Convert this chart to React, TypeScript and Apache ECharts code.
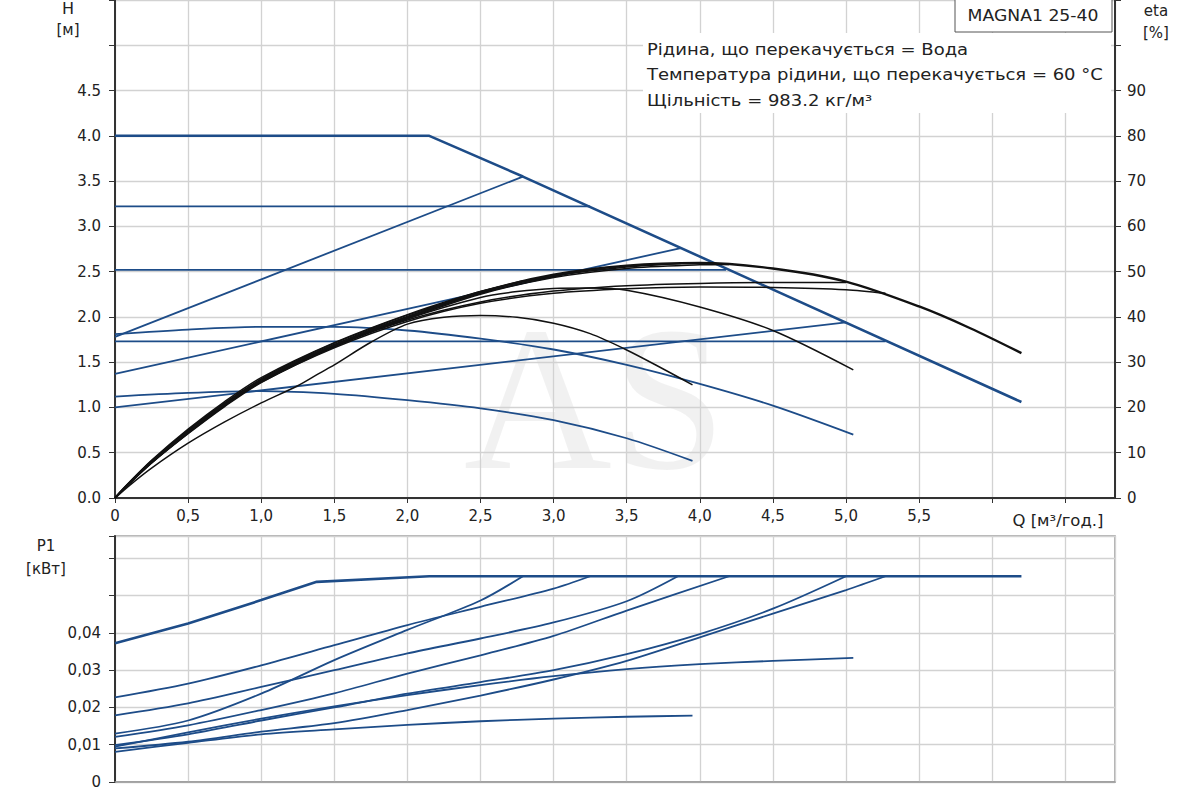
import React, { useEffect, useRef } from "react";
import * as echarts from "echarts";

// ---------- Data (Q in m³/h) ----------
// Head curves H [m]
const hMaxCurve = [[0, 4.0], [2.15, 4.0], [2.79, 3.55], [6.2, 1.06]];
const hCP322 = [[0, 3.22], [3.25, 3.22]];
const hCP252 = [[0, 2.52], [4.18, 2.52]];
const hCP173 = [[0, 1.73], [5.27, 1.73]];
const hPP178 = [[0, 1.78], [2.79, 3.55]];
const hPP137 = [[0, 1.37], [3.87, 2.76]];
const hPP100 = [[0, 1.0], [5.0, 1.94]];
const hAutoHigh = [[0, 1.81], [0.5, 1.86], [1.0, 1.89], [1.5, 1.89], [2.0, 1.85], [2.5, 1.76], [3.0, 1.64], [3.5, 1.47], [4.0, 1.26], [4.5, 1.02], [5.05, 0.7]];
const hAutoLow = [[0, 1.12], [0.5, 1.16], [1.0, 1.18], [1.5, 1.15], [2.0, 1.08], [2.5, 0.99], [3.0, 0.86], [3.5, 0.66], [3.95, 0.41]];

// Efficiency curves eta [%]
const etaMax = [[0, 0], [0.1, 3.4], [0.25, 8.0], [0.5, 14.6], [0.75, 20.7], [1.0, 26.0], [1.25, 30.2], [1.5, 33.8], [1.75, 37.1], [2.0, 40.0], [2.5, 45.5], [3.0, 49.3], [3.5, 51.3], [4.0, 51.9], [4.5, 50.7], [5.0, 47.8], [5.5, 42.3], [5.85, 37.5], [6.2, 32.0]];
const etaPP178 = [[0, 0], [0.1, 3.5], [0.25, 8.2], [0.5, 15.0], [0.75, 21.0], [1.0, 26.3], [1.25, 30.5], [1.5, 34.2], [1.75, 37.4], [2.0, 40.4], [2.5, 45.5], [2.79, 48.0]];
const etaCP322 = [[0, 0], [0.1, 3.3], [0.25, 7.8], [0.5, 14.4], [0.75, 20.4], [1.0, 25.7], [1.5, 33.5], [2.0, 39.8], [2.5, 45.2], [3.0, 48.9], [3.25, 50.4]];
const etaPP137 = [[0, 0], [0.1, 3.5], [0.25, 8.3], [0.5, 15.2], [0.75, 21.3], [1.0, 26.6], [1.5, 34.3], [2.0, 40.5], [2.5, 45.6], [3.0, 49.0], [3.5, 51.0], [3.87, 51.8]];
const etaCP252 = [[0, 0], [0.1, 3.2], [0.25, 7.7], [0.5, 14.2], [0.75, 20.2], [1.0, 25.5], [1.5, 33.4], [2.0, 39.6], [2.5, 45.0], [3.0, 48.7], [3.5, 50.7], [4.0, 51.5], [4.2, 51.6]];
const etaPP100 = [[0, 0], [0.1, 3.4], [0.25, 8.0], [0.5, 14.8], [0.75, 20.8], [1.0, 26.0], [1.5, 33.6], [2.0, 39.3], [2.5, 43.3], [3.0, 45.7], [3.5, 46.9], [4.0, 47.4], [4.5, 47.6], [5.0, 47.6]];
const etaCP173 = [[0, 0], [0.1, 3.3], [0.25, 7.9], [0.5, 14.5], [0.75, 20.5], [1.0, 25.6], [1.5, 33.2], [2.0, 39.0], [2.5, 43.0], [3.0, 45.2], [3.5, 46.2], [4.0, 46.6], [4.5, 46.5], [5.0, 46.0], [5.27, 45.2]];
const etaAutoHigh = [[0, 0], [0.1, 3.3], [0.25, 7.8], [0.5, 14.3], [0.75, 20.4], [1.0, 25.8], [1.5, 33.6], [2.0, 39.6], [2.5, 44.3], [2.75, 45.6], [3.0, 46.3], [3.25, 46.4], [3.5, 45.9], [4.0, 42.2], [4.5, 37.0], [5.05, 28.3]];
const etaAutoLow = [[0, 0], [0.1, 2.8], [0.25, 6.6], [0.5, 12.1], [0.75, 16.8], [1.0, 21.0], [1.25, 24.8], [1.4, 27.6], [1.5, 29.4], [1.75, 34.4], [2.0, 38.4], [2.25, 39.9], [2.5, 40.3], [2.75, 39.9], [3.0, 38.6], [3.25, 36.3], [3.5, 32.7], [3.75, 28.5], [3.95, 25.0]];

// Power curves P1 [kW]
const pMaxCurve = [[0, 0.0372], [0.5, 0.0425], [1.0, 0.0488], [1.38, 0.0537], [2.15, 0.0552], [6.2, 0.0552]];
const pCP322 = [[0, 0.0227], [0.5, 0.0264], [1.0, 0.0313], [1.5, 0.0367], [2.0, 0.0421], [2.5, 0.047], [3.0, 0.0519], [3.25, 0.0552]];
const pPP178 = [[0, 0.013], [0.5, 0.0165], [1.0, 0.0237], [1.5, 0.0327], [2.0, 0.0408], [2.5, 0.0487], [2.79, 0.0552]];
const pPP137 = [[0, 0.0179], [0.5, 0.0211], [1.0, 0.0255], [1.5, 0.03], [2.0, 0.0345], [2.5, 0.0385], [3.0, 0.0428], [3.5, 0.0485], [3.85, 0.0552]];
const pCP252 = [[0, 0.0121], [0.5, 0.0152], [1.0, 0.0193], [1.5, 0.0238], [2.0, 0.0291], [2.5, 0.034], [3.0, 0.0392], [3.5, 0.046], [4.2, 0.0552]];
const pPP100 = [[0, 0.0099], [0.5, 0.0128], [1.0, 0.0165], [1.5, 0.02], [2.0, 0.0237], [2.5, 0.0268], [3.0, 0.03], [3.5, 0.0343], [4.0, 0.0397], [4.5, 0.0465], [5.0, 0.0552]];
const pCP173 = [[0, 0.009], [0.5, 0.0108], [1.0, 0.0135], [1.5, 0.0158], [2.0, 0.0193], [2.5, 0.0232], [3.0, 0.0275], [3.5, 0.0325], [4.0, 0.0388], [4.5, 0.0452], [5.0, 0.0515], [5.27, 0.0552]];
const pAutoHigh = [[0, 0.0095], [0.5, 0.0133], [1.0, 0.017], [1.5, 0.0203], [2.0, 0.0233], [2.5, 0.026], [3.0, 0.0284], [3.5, 0.0303], [4.0, 0.0316], [4.5, 0.0325], [5.05, 0.0333]];
const pAutoLow = [[0, 0.0081], [0.5, 0.0105], [1.0, 0.0128], [1.5, 0.0141], [2.0, 0.0153], [2.5, 0.0163], [3.0, 0.017], [3.5, 0.0175], [3.95, 0.0178]];

// Texts
const titleBox = "MAGNA1 25-40";
const infoLines = [
  "Рідина, що перекачується = Вода",
  "Температура рідини, що перекачується = 60 °C",
  "Щільність = 983.2 кг/м³",
];
const qAxisName = "Q [м³/год.]";

const FONT = "'DejaVu Sans', 'Liberation Sans', Arial, sans-serif";
const BLUE = "#1d4c88";
const BLACK = "#111111";
const GRIDC = "#d2d2d2";

function App() {
  const ref = useRef<HTMLDivElement>(null);

  useEffect(() => {
    if (!ref.current) return;
    const chart = echarts.init(ref.current, undefined, { renderer: "svg" });

    const blue = (data: number[][], w = 1.8, smooth = false, xi = 0, yi = 0) => ({
      type: "line",
      data,
      xAxisIndex: xi,
      yAxisIndex: yi,
      showSymbol: false,
      smooth: smooth ? 0.3 : false,
      lineStyle: { color: BLUE, width: w },
      z: 3,
      silent: true,
    });
    const black = (data: number[][], w = 1.5) => ({
      type: "line",
      data,
      xAxisIndex: 0,
      yAxisIndex: 1,
      showSymbol: false,
      smooth: 0.3,
      lineStyle: { color: BLACK, width: w },
      z: 4,
      silent: true,
    });

    const axisFont = { fontFamily: FONT, fontSize: 15, color: "#222" };
    const txt = (x: number, y: number, text: string, size = 15, align = "center", sx = 1) => ({
      type: "text",
      x,
      y,
      scaleX: sx,
      z: 3,
      silent: true,
      style: { text, fontFamily: FONT, fontSize: size, fill: "#222", align, verticalAlign: "middle" },
    });

    const option: any = {
      animation: false,
      backgroundColor: "#fff",
      grid: [
        { left: 115, right: 85, top: 0, height: 498, show: true, borderColor: "#666", borderWidth: 1, backgroundColor: "transparent" },
        { left: 115, right: 85, top: 536, height: 246, show: true, borderColor: "#999", borderWidth: 1.5, backgroundColor: "transparent" },
      ],
      xAxis: [
        {
          gridIndex: 0,
          type: "value",
          min: 0,
          max: 6.84,
          interval: 0.5,
          axisLine: { show: true, onZero: false, lineStyle: { color: "#333", width: 2 } },
          axisTick: { show: true, length: 5, lineStyle: { color: "#333" } },
          axisLabel: {
            ...axisFont,
            margin: 10,
            showMaxLabel: false,
            formatter: (v: number) => (v >= 5.9 ? "" : v === 0 ? "0" : v.toFixed(1).replace(".", ",")),
          },
          splitLine: { show: true, lineStyle: { color: GRIDC, width: 1.3 } },
        },
        {
          gridIndex: 1,
          type: "value",
          min: 0,
          max: 6.84,
          interval: 0.5,
          axisLine: { show: true, onZero: false, lineStyle: { color: "#999", width: 1.5 } },
          axisTick: { show: false },
          axisLabel: { show: false },
          splitLine: { show: true, lineStyle: { color: GRIDC, width: 1.3 } },
        },
      ],
      yAxis: [
        {
          gridIndex: 0,
          type: "value",
          position: "left",
          min: 0,
          max: 5.5,
          interval: 0.5,
          axisLine: { show: true, onZero: false, lineStyle: { color: "#333", width: 2 } },
          axisTick: { show: true, length: 6, lineStyle: { color: "#333" } },
          axisLabel: {
            ...axisFont,
            margin: 14,
            formatter: (v: number) => (v > 4.6 ? "" : v.toFixed(1)),
          },
          splitLine: { show: true, lineStyle: { color: GRIDC, width: 1.3 } },
        },
        {
          gridIndex: 0,
          type: "value",
          position: "right",
          min: 0,
          max: 110,
          interval: 10,
          axisLine: { show: true, onZero: false, lineStyle: { color: "#333", width: 2 } },
          axisTick: { show: true, length: 6, lineStyle: { color: "#333" } },
          axisLabel: {
            ...axisFont,
            margin: 12,
            formatter: (v: number) => (v > 95 ? "" : String(Math.round(v))),
          },
          splitLine: { show: false },
        },
        {
          gridIndex: 1,
          type: "value",
          position: "left",
          min: 0,
          max: 0.066,
          interval: 0.01,
          axisLine: { show: true, onZero: false, lineStyle: { color: "#333", width: 2 } },
          axisTick: { show: true, length: 6, lineStyle: { color: "#333" } },
          axisLabel: {
            ...axisFont,
            margin: 14,
            formatter: (v: number) => (v > 0.045 ? "" : v === 0 ? "0" : v.toFixed(2).replace(".", ",")),
          },
          splitLine: { show: true, lineStyle: { color: GRIDC, width: 1.3 } },
        },
      ],
      graphic: [
        {
          type: "text",
          z: -10,
          silent: true,
          x: 595,
          y: 398,
          scaleX: 1.2,
          scaleY: 1.2,
          style: {
            text: "AS",
            fontFamily: "'Liberation Serif', 'DejaVu Serif', serif",
            fontSize: 171,
            lineHeight: 120,
            fill: "rgba(0,0,0,0.055)",
            align: "center",
            verticalAlign: "middle",
          },
        },
        {
          type: "rect",
          z: 1,
          silent: true,
          shape: { x: 643, y: 33, width: 468, height: 80 },
          style: { fill: "#fff" },
        },
        ...infoLines.map((t, i) => txt(647, 50 + i * 25.5, t, 15, "left", 1.2)),
        {
          type: "rect",
          z: 2,
          silent: true,
          shape: { x: 955, y: -1, width: 157, height: 33 },
          style: { fill: "#fff", stroke: "#555", lineWidth: 1 },
        },
        txt(1033, 16, titleBox, 15, "center", 1.15),
        txt(68, 8, "H", 16),
        txt(68, 30, "[м]", 15),
        txt(1156, 11, "eta", 15),
        txt(1156, 33, "[%]", 15),
        txt(1058, 521, qAxisName, 15, "center", 1.1),
        txt(46, 546, "P1", 15),
        txt(46, 569, "[кВт]", 15),
      ],
      series: [
        // H curves
        blue(hCP322),
        blue(hCP252),
        blue(hCP173),
        blue(hPP178),
        blue(hPP137),
        blue(hPP100),
        blue(hAutoHigh, 1.8, true),
        blue(hAutoLow, 1.8, true),
        blue(hMaxCurve, 2.6),
        // eta curves
        black(etaPP178),
        black(etaCP322),
        black(etaPP137),
        black(etaCP252),
        black(etaPP100),
        black(etaCP173),
        black(etaAutoHigh),
        black(etaAutoLow),
        black(etaMax, 2.4),
        // P1 curves
        blue(pCP322, 1.8, true, 1, 2),
        blue(pPP178, 1.8, true, 1, 2),
        blue(pPP137, 1.8, true, 1, 2),
        blue(pCP252, 1.8, true, 1, 2),
        blue(pPP100, 1.8, true, 1, 2),
        blue(pCP173, 1.8, true, 1, 2),
        blue(pAutoHigh, 1.8, true, 1, 2),
        blue(pAutoLow, 1.8, true, 1, 2),
        blue(pMaxCurve, 2.6, false, 1, 2),
      ],
    };

    chart.setOption(option);
    return () => chart.dispose();
  }, []);

  return (
    <div
      ref={ref}
      style={{ position: "fixed", left: 0, top: 0, width: 1200, height: 800, background: "#fff" }}
    />
  );
}

export default App;
